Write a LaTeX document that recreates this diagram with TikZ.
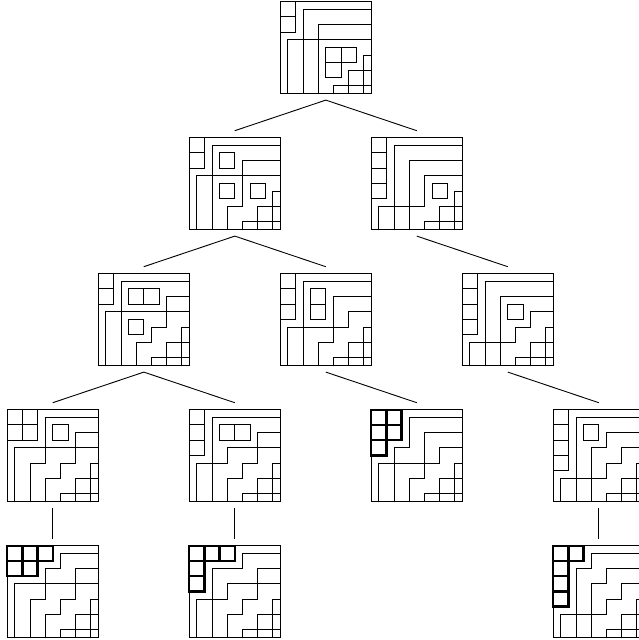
\documentclass[tikz,border=0pt]{standalone}
\newcommand\bpdhook[2]{\draw[pipe] (#1,6) -- (#1,#2) -- (6,#2);}
\newcommand\bpdbr{\bpdhook{5.5}{3.5}\bpdhook{4.5}{4.5}\bpdhook{3.5}{5.5}}
\newcommand\bpdblank[2]{\draw[blank] (#1,#2) rectangle ++(1,1);}
\newcommand\bpdthick[2]{\draw[thickblank] (#1,#2) rectangle ++(1,1);}
\newcommand\bpdin[2]{\begin{scope}[shift={(#1.center)},x=15.23pt,y=-15.23pt,shift={(-3,-3)}]#2\end{scope}}
\begin{document}
\begin{tikzpicture}[x=1pt,y=-1pt,
  bpdbox/.style={draw, line width=1pt, minimum size=91.4pt, inner sep=0pt, outer sep=7pt},
  pipe/.style={line width=0.9pt},
  blank/.style={line width=1pt},
  thickblank/.style={line width=2.4pt},
  conn/.style={line width=0.9pt}]
\useasboundingbox (0,0) rectangle (639,640);
% boxes
\node[bpdbox] (R) at (325.8,47.4) {};
\node[bpdbox] (A) at (234.8,183.4) {};
\node[bpdbox] (B) at (416.8,183.4) {};
\node[bpdbox] (C) at (143.8,319.4) {};
\node[bpdbox] (D) at (325.8,319.4) {};
\node[bpdbox] (E) at (507.8,319.4) {};
\node[bpdbox] (F) at (52.8,455.4) {};
\node[bpdbox] (G) at (234.8,455.4) {};
\node[bpdbox] (H) at (416.8,455.4) {};
\node[bpdbox] (J) at (598.8,455.4) {};
\node[bpdbox] (K) at (52.8,591.4) {};
\node[bpdbox] (L) at (234.8,591.4) {};
\node[bpdbox] (M) at (598.8,591.4) {};
% connectors
\draw[conn] (R.south) -- (A.north);
\draw[conn] (R.south) -- (B.north);
\draw[conn] (A.south) -- (C.north);
\draw[conn] (A.south) -- (D.north);
\draw[conn] (B.south) -- (E.north);
\draw[conn] (C.south) -- (F.north);
\draw[conn] (C.south) -- (G.north);
\draw[conn] (D.south) -- (H.north);
\draw[conn] (E.south) -- (J.north);
\draw[conn] (F.south) -- (K.north);
\draw[conn] (G.south) -- (L.north);
\draw[conn] (J.south) -- (M.north);
% root
\bpdin{R}{
  \bpdhook{1.5}{0.5}\bpdhook{2.5}{1.5}\bpdhook{0.5}{2.5}\bpdbr
  \bpdblank{0}{0}\bpdblank{0}{1}\bpdblank{3}{3}\bpdblank{4}{3}\bpdblank{3}{4}
}
% A
\bpdin{A}{
  \bpdhook{1.5}{0.5}\bpdhook{0.5}{2.5}\bpdbr
  \draw[pipe] (2.5,6) -- (2.5,4.5) -- (3.5,4.5) -- (3.5,1.5) -- (6,1.5);
  \bpdblank{0}{0}\bpdblank{0}{1}\bpdblank{2}{1}\bpdblank{2}{3}\bpdblank{4}{3}
}
% B
\bpdin{B}{
  \bpdhook{1.5}{0.5}\bpdhook{2.5}{1.5}\bpdbr
  \draw[pipe] (0.5,6) -- (0.5,4.5) -- (3.5,4.5) -- (3.5,2.5) -- (6,2.5);
  \bpdblank{0}{0}\bpdblank{0}{1}\bpdblank{0}{2}\bpdblank{0}{3}\bpdblank{4}{3}
}
% C
\bpdin{C}{
  \bpdhook{1.5}{0.5}\bpdhook{0.5}{2.5}\bpdbr
  \draw[pipe] (2.5,6) -- (2.5,4.5) -- (3.5,4.5) -- (3.5,3.5) -- (4.5,3.5) -- (4.5,1.5) -- (6,1.5);
  \bpdblank{0}{0}\bpdblank{0}{1}\bpdblank{2}{1}\bpdblank{3}{1}\bpdblank{2}{3}
}
% D
\bpdin{D}{
  \bpdhook{1.5}{0.5}\bpdbr
  \draw[pipe] (2.5,6) -- (2.5,4.5) -- (3.5,4.5) -- (3.5,1.5) -- (6,1.5);
  \draw[pipe] (0.5,6) -- (0.5,3.5) -- (4.5,3.5) -- (4.5,2.5) -- (6,2.5);
  \bpdblank{0}{0}\bpdblank{0}{1}\bpdblank{0}{2}\bpdblank{2}{1}\bpdblank{2}{2}
}
% E
\bpdin{E}{
  \bpdhook{1.5}{0.5}\bpdhook{2.5}{1.5}\bpdbr
  \draw[pipe] (0.5,6) -- (0.5,4.5) -- (3.5,4.5) -- (3.5,3.5) -- (4.5,3.5) -- (4.5,2.5) -- (6,2.5);
  \bpdblank{0}{0}\bpdblank{0}{1}\bpdblank{0}{2}\bpdblank{0}{3}\bpdblank{3}{2}
}
% F
\bpdin{F}{
  \bpdhook{0.5}{2.5}\bpdbr
  \draw[pipe] (1.5,6) -- (1.5,3.5) -- (2.5,3.5) -- (2.5,0.5) -- (6,0.5);
  \draw[pipe] (2.5,6) -- (2.5,4.5) -- (3.5,4.5) -- (3.5,3.5) -- (4.5,3.5) -- (4.5,1.5) -- (6,1.5);
  \bpdblank{0}{0}\bpdblank{1}{0}\bpdblank{0}{1}\bpdblank{1}{1}\bpdblank{3}{1}
}
% G
\bpdin{G}{
  \bpdhook{1.5}{0.5}\bpdbr
  \draw[pipe] (2.5,6) -- (2.5,4.5) -- (3.5,4.5) -- (3.5,3.5) -- (4.5,3.5) -- (4.5,1.5) -- (6,1.5);
  \draw[pipe] (0.5,6) -- (0.5,3.5) -- (2.5,3.5) -- (2.5,2.5) -- (6,2.5);
  \bpdblank{0}{0}\bpdblank{0}{1}\bpdblank{0}{2}\bpdblank{2}{1}\bpdblank{3}{1}
}
% H
\bpdin{H}{
  \bpdbr
  \draw[pipe] (1.5,6) -- (1.5,2.5) -- (2.5,2.5) -- (2.5,0.5) -- (6,0.5);
  \draw[pipe] (2.5,6) -- (2.5,4.5) -- (3.5,4.5) -- (3.5,1.5) -- (6,1.5);
  \draw[pipe] (0.5,6) -- (0.5,3.5) -- (4.5,3.5) -- (4.5,2.5) -- (6,2.5);
  \bpdthick{0}{0}\bpdthick{1}{0}\bpdthick{0}{1}\bpdthick{1}{1}\bpdthick{0}{2}
}
% J
\bpdin{J}{
  \bpdhook{1.5}{0.5}\bpdbr
  \draw[pipe] (2.5,6) -- (2.5,2.5) -- (3.5,2.5) -- (3.5,1.5) -- (6,1.5);
  \draw[pipe] (0.5,6) -- (0.5,4.5) -- (3.5,4.5) -- (3.5,3.5) -- (4.5,3.5) -- (4.5,2.5) -- (6,2.5);
  \bpdblank{0}{0}\bpdblank{0}{1}\bpdblank{0}{2}\bpdblank{0}{3}\bpdblank{2}{1}
}
% K
\bpdin{K}{
  \bpdhook{0.5}{2.5}\bpdbr
  \draw[pipe] (1.5,6) -- (1.5,3.5) -- (2.5,3.5) -- (2.5,1.5) -- (3.5,1.5) -- (3.5,0.5) -- (6,0.5);
  \draw[pipe] (2.5,6) -- (2.5,4.5) -- (3.5,4.5) -- (3.5,3.5) -- (4.5,3.5) -- (4.5,1.5) -- (6,1.5);
  \bpdthick{0}{0}\bpdthick{1}{0}\bpdthick{2}{0}\bpdthick{0}{1}\bpdthick{1}{1}
}
% L
\bpdin{L}{
  \bpdbr
  \draw[pipe] (1.5,6) -- (1.5,1.5) -- (3.5,1.5) -- (3.5,0.5) -- (6,0.5);
  \draw[pipe] (2.5,6) -- (2.5,4.5) -- (3.5,4.5) -- (3.5,3.5) -- (4.5,3.5) -- (4.5,1.5) -- (6,1.5);
  \draw[pipe] (0.5,6) -- (0.5,3.5) -- (2.5,3.5) -- (2.5,2.5) -- (6,2.5);
  \bpdthick{0}{0}\bpdthick{1}{0}\bpdthick{2}{0}\bpdthick{0}{1}\bpdthick{0}{2}
}
% M
\bpdin{M}{
  \bpdbr
  \draw[pipe] (1.5,6) -- (1.5,1.5) -- (2.5,1.5) -- (2.5,0.5) -- (6,0.5);
  \draw[pipe] (2.5,6) -- (2.5,2.5) -- (3.5,2.5) -- (3.5,1.5) -- (6,1.5);
  \draw[pipe] (0.5,6) -- (0.5,4.5) -- (3.5,4.5) -- (3.5,3.5) -- (4.5,3.5) -- (4.5,2.5) -- (6,2.5);
  \bpdthick{0}{0}\bpdthick{1}{0}\bpdthick{0}{1}\bpdthick{0}{2}\bpdthick{0}{3}
}
\end{tikzpicture}
\end{document}
